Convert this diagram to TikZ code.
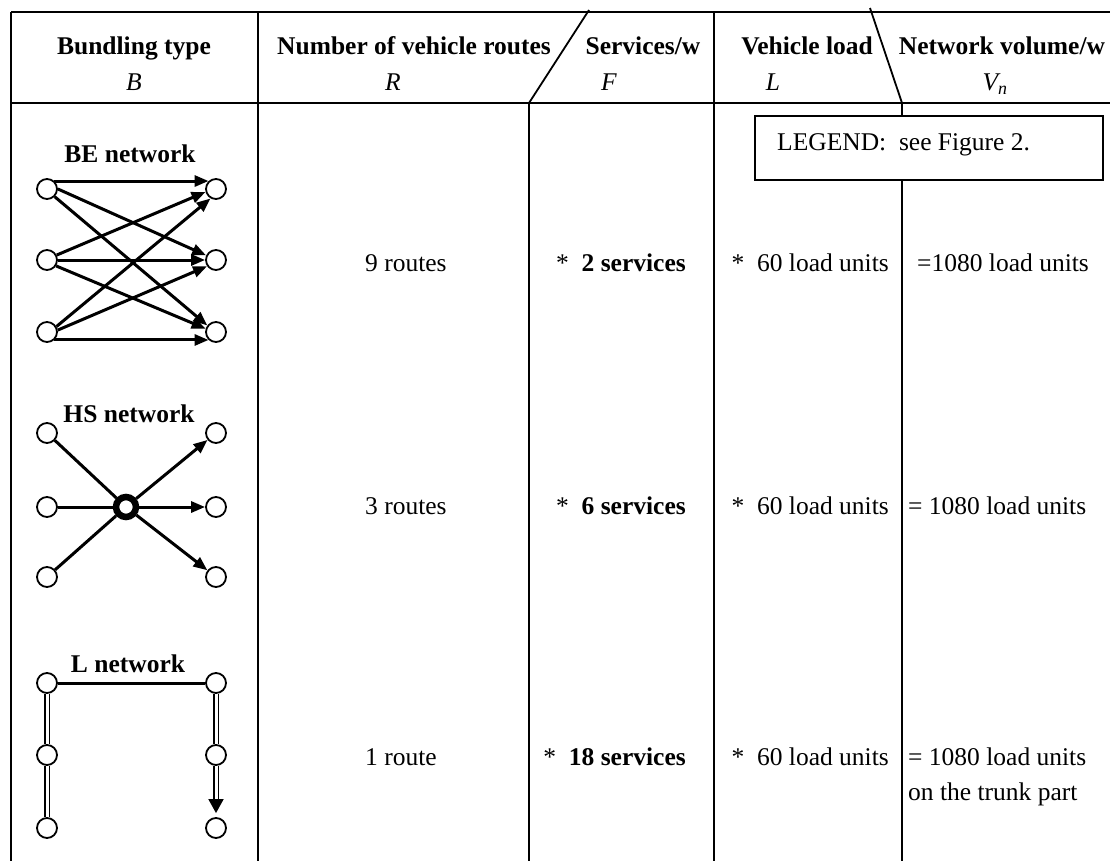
\documentclass[tikz,border=0pt]{standalone}
\usepackage{fontspec}
\setmainfont{Liberation Serif}
\usetikzlibrary{arrows.meta}
\begin{document}
\begin{tikzpicture}[x=1pt,y=-1pt,
  tline/.style={line width=1.8pt},
  nd/.style={circle,draw,line width=1.8pt,minimum size=20pt,inner sep=0pt,fill=white},
  hubnode/.style={circle,draw,line width=6.5pt,minimum size=20pt,inner sep=0pt,fill=white},
  arr/.style={line width=3pt,-{Triangle[length=14pt,width=11pt]}},
  ln/.style={line width=3pt},
  dbl/.style={double,double distance=3pt,line width=1.7pt},
  txt/.style={font=\fontsize{25.5}{30}\selectfont,inner sep=0pt},
  hd/.style={txt,font=\fontsize{25.5}{30}\selectfont\bfseries,anchor=base},
  hv/.style={txt,font=\fontsize{25.5}{30}\selectfont\itshape,anchor=base},
  bw/.style={txt,anchor=base west},
  be/.style={txt,anchor=base east}
]
\useasboundingbox (0,0) rectangle (1110,861);
% table lines
\draw[tline] (11,12) -- (1110,12);
\draw[tline] (11,103) -- (1110,103);
\draw[tline] (11,12) -- (11,861);
\draw[tline] (258,12) -- (258,861);
\draw[tline] (589,10) -- (529,103) -- (529,861);
\draw[tline] (714,12) -- (714,861);
\draw[tline] (870,8) -- (902,103) -- (902,861);
% legend box
\node[draw,line width=1.8pt,fill=white,minimum width=348pt,minimum height=64pt,inner sep=0pt,anchor=north west] (legend) at (754,115) {};
\node[bw] (legtxt) at (777,151) {LEGEND:~~see Figure 2.};
% header
\node[hd] (h1) at (134,55) {Bundling type};
\node[hv] (h1v) at (134,91) {B};
\node[hd] (h2) at (414,55) {Number of vehicle routes};
\node[hv] (h2v) at (393,91) {R};
\node[hd] (h3) at (643,55) {Services/w};
\node[hv] (h3v) at (609,91) {F};
\node[hd] (h4) at (807,55) {Vehicle load};
\node[hv] (h4v) at (773,91) {L};
\node[hd] (h5) at (1002,55) {Network volume/w};
\node[hv] (h5v) at (995,91) {V\textsubscript{n}};
% row texts
\node[bw] (r1a) at (365,271) {9 routes};
\node[be] (r1b) at (686,271) {*~~\textbf{2 services}};
\node[be] (r1c) at (889,271) {*~~60 load units};
\node[bw] (r1d) at (917,271) {=1080 load units};
\node[bw] (r2a) at (365,514) {3 routes};
\node[be] (r2b) at (686,514) {*~~\textbf{6 services}};
\node[be] (r2c) at (889,514) {*~~60 load units};
\node[bw] (r2d) at (908,514) {= 1080 load units};
\node[bw] (r3a) at (365,765) {1 route};
\node[be] (r3b) at (686,765) {*~~\textbf{18 services}};
\node[be] (r3c) at (889,765) {*~~60 load units};
\node[bw] (r3d) at (908,765) {= 1080 load units};
\node[bw] (r3e) at (908,800) {on the trunk part};
% BE network
\node[hd] (belab) at (130,163) {BE network};
\node[nd] (bl1) at (47,189) {};
\node[nd] (bl2) at (47,260) {};
\node[nd] (bl3) at (47,332) {};
\node[nd] (br1) at (216,189) {};
\node[nd] (br2) at (216,260) {};
\node[nd] (br3) at (216,332) {};
\draw[arr] (bl1.47) -- (br1.133);
\draw[arr] (bl1.0) -- (br2.155);
\draw[arr] (bl1.-45) -- (br3.143);
\draw[arr] (bl2.27) -- (br1.196);
\draw[arr] (bl2.east) -- (br2.west);
\draw[arr] (bl2.-33) -- (br3.162);
\draw[arr] (bl3.30) -- (br1.240);
\draw[arr] (bl3.10) -- (br2.215);
\draw[arr] (bl3.-47) -- (br3.227);
% HS network
\node[hd] (hslab) at (129,422) {HS network};
\node[nd] (hl1) at (47,433) {};
\node[nd] (hl2) at (47,507) {};
\node[nd] (hl3) at (47,577) {};
\node[nd] (hr1) at (216,433) {};
\node[nd] (hr2) at (216,507) {};
\node[nd] (hr3) at (216,577) {};
\node[hubnode] (hub) at (126,507) {};
\draw[ln] (hl1) -- (hub);
\draw[ln] (hl2) -- (hub);
\draw[ln] (hl3) -- (hub);
\draw[arr] (hub) -- (hr1);
\draw[arr] (hub) -- (hr2);
\draw[arr] (hub) -- (hr3);
% L network
\node[hd] (llab) at (128,672) {L network};
\node[nd] (ll1) at (47,683) {};
\node[nd] (ll2) at (47,755) {};
\node[nd] (ll3) at (47,828) {};
\node[nd] (lr1) at (216,683) {};
\node[nd] (lr2) at (216,755) {};
\node[nd] (lr3) at (216,828) {};
\draw[ln] (ll1) -- (lr1);
\draw[dbl] (ll1) -- (ll2);
\draw[dbl] (ll2) -- (ll3);
\draw[dbl] (lr1) -- (lr2);
\draw[dbl,-{Triangle[length=14pt,width=15pt]},shorten >=4pt] (lr2) -- (lr3);
\end{tikzpicture}
\end{document}
